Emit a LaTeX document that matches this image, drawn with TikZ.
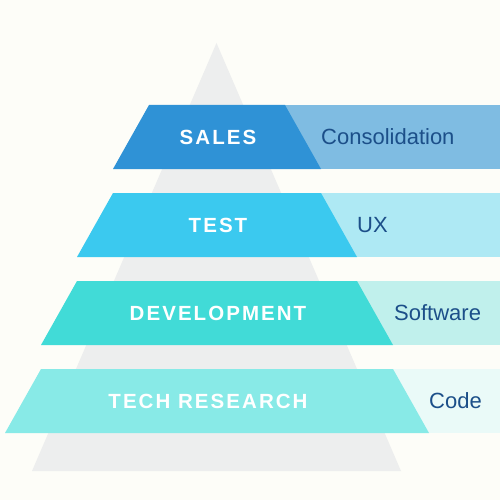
\documentclass[tikz,border=0pt]{standalone}
\usepackage{fontspec}
\setmainfont{Liberation Sans}
\newfontfamily\tierfont[LetterSpace=10]{Liberation Sans Bold}
\begin{document}
\begin{tikzpicture}[x=1pt,y=-1pt,
  tierlabel/.style={text=white,font=\tierfont\fontsize{20.5}{24}\selectfont,inner sep=0pt,anchor=center},
  sidelabel/.style={text=sidetext,font=\fontsize{22}{26}\selectfont,inner sep=0pt,anchor=west}]
\definecolor{paper}{HTML}{FDFDF8}
\definecolor{pyramid}{HTML}{EDEEEE}
\definecolor{sidetext}{HTML}{1C4F89}
\definecolor{salesA}{HTML}{2F92D6}\definecolor{salesB}{HTML}{7FBCE2}
\definecolor{testA}{HTML}{3BC9EF}\definecolor{testB}{HTML}{AEE9F4}
\definecolor{devA}{HTML}{41DBD7}\definecolor{devB}{HTML}{C0F0EC}
\definecolor{techA}{HTML}{88EAE7}\definecolor{techB}{HTML}{EAFAF8}
% canvas
\fill[paper] (0,0) rectangle (500,500);
\useasboundingbox (0,0) rectangle (500,500);
% background pyramid
\fill[pyramid] (216.5,43) -- (401,471) -- (32,471) -- cycle;
% tiers: top y, half width at top, fill colours
\foreach \t/\hw/\ca/\cb in {105/68/salesA/salesB, 193/104/testA/testB, 281/140/devA/devB, 369/176/techA/techB}{
  \fill[\cb] (217,\t) rectangle (500,\t+64);
  \fill[\ca] (217-\hw,\t) -- (217+\hw,\t) -- (217+\hw+36,\t+64) -- (217-\hw-36,\t+64) -- cycle;
}
% tier titles
\node[tierlabel] (sales) at (218,137) {SALES};
\node[tierlabel] (test) at (218,225) {TEST};
\node[tierlabel] (dev) at (218,313) {DEVELOPMENT};
\node[tierlabel] (tech) at (208,401) {TECH RESEARCH};
% side notes
\node[sidelabel] (consolidation) at (321,137) {Consolidation};
\node[sidelabel] (ux) at (357,225) {UX};
\node[sidelabel] (software) at (394,313) {Software};
\node[sidelabel] (code) at (429,401) {Code};
\end{tikzpicture}
\end{document}
